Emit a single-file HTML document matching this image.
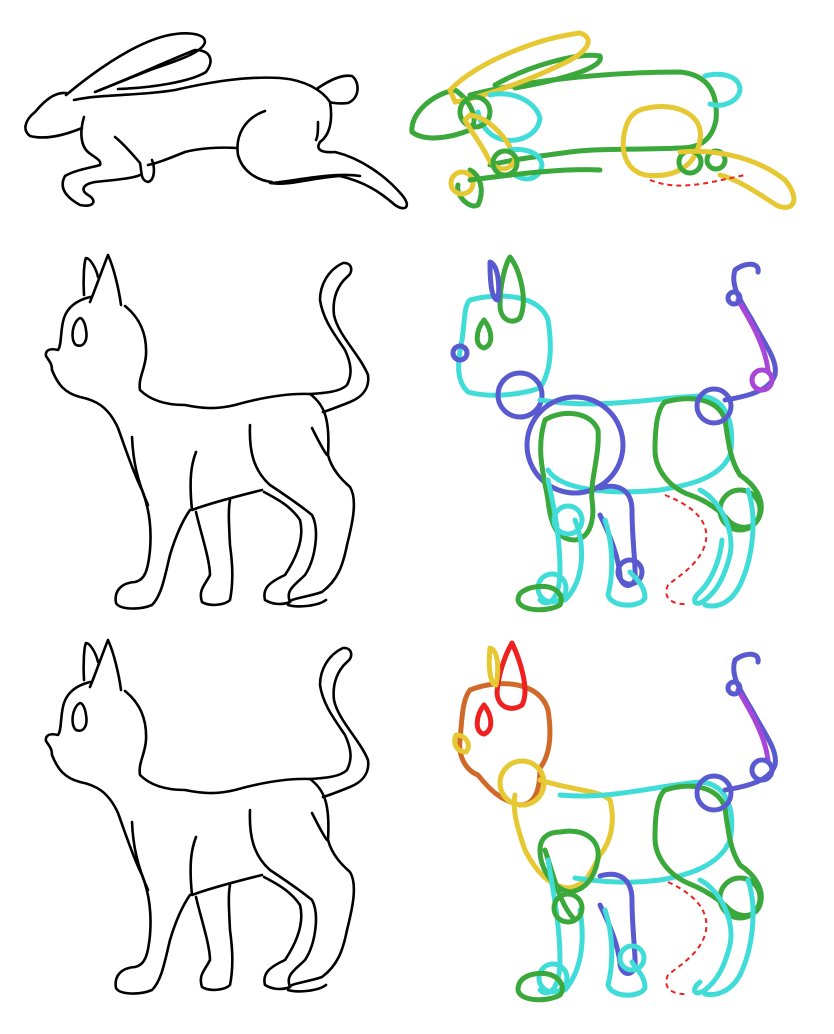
<!DOCTYPE html>
<html><head><meta charset="utf-8"><style>
html,body{margin:0;padding:0;background:#fff;width:834px;height:1034px;overflow:hidden}
svg{display:block}
.k{fill:none;stroke:#000;stroke-width:2.6;stroke-linecap:round;stroke-linejoin:round}
.c{fill:none;stroke-width:5;stroke-linecap:round;stroke-linejoin:round}
.cy{stroke:#40dcd8}.gr{stroke:#3aa83a}.bl{stroke:#5a5ad0}.pu{stroke:#a846d8}.ye{stroke:#e6c832}.or{stroke:#d06a2a}.re{stroke:#ee2020}
.dash{fill:none;stroke:#ee2020;stroke-width:2;stroke-dasharray:5 4}
</style></head><body>
<svg width="834" height="1034" viewBox="0 0 834 1034">
<defs>
<g id="cat">
<path class="k" d="M84,295 C83,280 84,262 86,258 C90,258 96,268 98,277"/>
<path class="k" d="M90,302 C95,290 102,270 108,255 C114,268 119,290 121,305"/>
<path class="k" d="M90,297 C78,300 68,306 64,318 C60,330 62,345 58,350 C50,348 45,350 46,356 C50,362 52,364 52,370 C58,385 65,393 80,397 C95,400 108,406 118,428 C126,450 133,472 142,490 C148,505 152,525 150,550 C148,570 145,580 135,582 C120,583 114,592 116,603 C120,610 140,610 152,605 C162,595 165,575 170,555 C176,535 183,520 190,510"/>
<path class="k" d="M132,437 C133,460 137,480 148,505"/>
<path class="k" d="M125,306 C140,318 147,335 146,355 C145,370 138,378 140,390 C150,400 165,405 185,405 C200,408 215,410 235,405 C260,398 285,393 310,394 C325,393 340,392 347,385 C352,375 352,365 345,350 C335,335 323,320 320,300 C320,285 328,270 343,263 C352,262 354,272 347,277 C338,285 332,298 334,315 C338,335 360,355 368,375 C370,390 360,398 350,402 C340,406 330,410 323,412"/>
<path class="k" d="M310,394 C325,405 330,420 328,455 C332,470 342,480 350,487 C358,500 352,525 347,545 C343,565 338,580 322,592 C305,598 287,598 288,605 C298,608 318,606 326,600"/>
<path class="k" d="M312,428 C318,440 323,450 327,455"/>
<path class="k" d="M250,425 C249,450 253,470 270,485 C285,495 300,505 312,515 C320,530 315,560 305,575 C295,585 285,590 290,602"/>
<path class="k" d="M196,452 C191,465 189,480 192,510 C205,505 230,498 262,490"/>
<path class="k" d="M196,512 C200,530 210,560 210,575 C205,585 198,590 202,602 C210,607 225,605 230,600 C234,580 232,560 230,545 C229,525 228,510 230,500"/>
<path class="k" d="M264,492 C275,498 290,505 300,520 C305,540 295,560 285,575 C270,582 262,588 265,600 C275,606 285,604 290,602"/>
<path class="k" d="M80,318 C72,322 70,340 76,345 C84,348 88,340 86,330 C85,322 82,318 80,318 Z"/>
</g>
</defs>

<g>
<path class="k" d="M66,95 C90,75 130,45 165,36 C185,31 205,33 205,42 C203,52 180,60 150,70 C125,80 105,88 95,92"/>
<path class="k" d="M100,90 C130,78 170,60 195,50 C210,50 215,60 206,72 C190,82 150,88 118,89"/>
<path class="k" d="M66,93 C55,92 45,100 35,112 C25,120 22,130 30,136 C45,140 65,135 82,128"/>
<path class="k" d="M74,100 C100,94 140,96 175,90 C210,82 245,76 280,78 C305,80 322,90 330,102 C333,120 330,135 320,142 C315,150 322,153 335,152 C360,158 385,175 402,195 C412,207 405,212 395,205 C380,192 365,182 340,176 C310,178 290,186 270,183"/>
<path class="k" d="M318,88 C330,80 342,74 352,76 C360,82 360,98 348,103 C340,104 332,103 330,102"/>
<path class="k" d="M265,111 C245,118 235,135 238,155 C242,170 255,180 272,182"/>
<path class="k" d="M237,148 C220,147 200,148 185,152 C170,158 158,163 148,165"/>
<path class="k" d="M84,117 C80,130 80,145 88,152 C95,158 102,160 100,165 C90,168 75,170 65,176 C60,185 62,195 80,205 C95,208 97,200 88,195 C80,190 83,184 95,182 C115,180 135,178 140,175"/>
<path class="k" d="M115,137 C125,145 133,155 140,163 C142,172 140,180 148,182 C155,180 155,168 152,160"/>
<path class="k" d="M318,122 C318,130 318,136 316,140"/>
<path class="k" d="M272,183 C300,180 335,172 360,176"/>
</g>

<g>
<path class="c gr" d="M455,90 C430,95 410,115 412,132 C425,142 450,138 470,130 C480,120 470,100 455,90 Z"/>
<path class="c gr" d="M470,95 C520,82 600,72 680,72 C710,75 718,95 716,120 C712,140 700,148 680,148 C640,150 600,148 570,152 C540,156 510,160 490,165"/>
<path class="c gr" d="M495,85 C530,65 580,52 600,56 C605,68 560,80 515,88"/>
<path class="c ye" d="M450,90 C480,60 540,38 580,33 C595,38 590,52 560,65 C530,80 480,98 455,102 Z"/>
<path class="c cy" d="M490,95 C510,90 535,100 540,118 C538,135 520,142 505,140 C490,138 480,125 478,112"/>
<path class="c cy" d="M705,76 C720,72 740,75 740,90 C738,102 722,108 710,104"/>
<circle class="c gr" cx="475" cy="112" r="15"/>
<path class="c ye" d="M470,115 C490,118 510,140 515,160 C510,172 495,172 488,158 C482,145 470,130 465,120 Z"/>
<path class="c cy" d="M510,150 C525,148 540,152 542,165 C540,180 525,182 515,175"/>
<circle class="c gr" cx="505" cy="163" r="12"/>
<path class="c gr" d="M470,170 C480,175 485,190 478,205 C470,210 455,195 458,185"/>
<circle class="c ye" cx="462" cy="183" r="11"/>
<path class="c gr" d="M470,180 C510,175 560,168 600,170"/>
<path class="c ye" d="M640,110 C670,100 705,112 700,140 C695,170 670,178 645,175 C625,170 620,150 625,130 C628,118 633,113 640,110 Z"/>
<circle class="c gr" cx="690" cy="162" r="11"/>
<circle class="c gr" cx="716" cy="160" r="9"/>
<path class="c ye" d="M680,152 C720,148 760,160 785,180 C800,198 795,212 778,206 C760,195 740,180 720,175"/>
<path class="dash" d="M650,180 C680,192 710,182 745,175"/>
</g>

<use href="#cat"/>
<use href="#cat" transform="translate(0,385)"/>

<g>
<path class="c cy" d="M470,300 C500,292 540,295 548,320 C552,345 552,370 540,388 C520,395 490,398 468,392 C455,380 458,360 462,340 C465,320 464,305 470,300 Z"/>
<path class="c gr" d="M510,257 C520,270 528,300 520,318 C512,325 500,320 500,305 C500,285 505,265 510,257 Z"/>
<path class="c bl" d="M490,262 C498,265 500,285 498,300 C492,300 490,285 490,262 Z"/>
<path class="c gr" d="M484,320 C492,330 494,345 484,348 C474,346 476,330 484,320 Z"/>
<circle class="c bl" cx="460" cy="353" r="7"/>
<circle class="c bl" cx="520" cy="395" r="22"/>
<path class="c cy" d="M540,400 C600,410 650,398 700,396 C730,398 735,430 730,455 C720,478 690,485 660,490 C610,495 560,490 548,470"/>
<circle class="c bl" cx="575" cy="445" r="48"/>
<path class="c gr" d="M545,420 C560,410 590,410 598,430 C600,455 590,480 592,500 C595,520 590,538 575,540 C555,540 550,520 548,500 C545,480 535,450 545,420 Z"/>
<path class="c cy" d="M548,480 C555,510 560,540 560,570 C560,600 548,608 540,600"/>
<path class="c cy" d="M575,520 C585,545 585,580 565,600"/>
<circle class="c cy" cx="552" cy="588" r="14"/>
<path class="c gr" d="M530,588 C555,582 565,595 560,605 C548,612 520,612 518,600 C518,592 525,590 530,588 Z"/>
<circle class="c cy" cx="568" cy="520" r="14"/>
<path class="c bl" d="M600,488 C620,482 632,492 632,510 C632,540 636,565 635,580 C630,590 620,585 620,575 C618,555 610,535 600,515"/>
<circle class="c bl" cx="630" cy="572" r="12"/>
<path class="c cy" d="M605,520 C615,550 612,580 608,595 C612,608 640,608 645,598 C645,585 635,578 630,572"/>
<path class="c gr" d="M665,402 C690,395 718,398 725,420 C728,440 730,460 740,475 C755,485 765,500 760,515 C755,530 740,530 730,522 C720,510 705,500 690,495 C670,488 655,470 655,450 C655,425 658,408 665,402 Z"/>
<circle class="c gr" cx="740" cy="510" r="20"/>
<path class="c cy" d="M700,490 C720,500 735,530 730,555 C725,575 718,590 705,600 C695,608 690,600 700,592 C712,580 720,560 722,540"/>
<path class="c cy" d="M748,490 C758,520 752,560 740,585 C730,605 715,608 705,605"/>
<path class="dash" d="M665,495 C690,505 712,520 705,545 C698,565 680,575 668,585 C662,598 672,605 688,604"/>
<circle class="c bl" cx="714" cy="406" r="17"/>
<path class="c bl" d="M725,400 C750,396 770,390 775,375 C778,360 765,345 752,320 C740,300 730,285 735,270 C745,262 760,262 758,272"/>
<path class="c pu" d="M738,300 C750,320 765,345 768,370"/>
<circle class="c pu" cx="762" cy="380" r="10"/>
<circle class="c bl" cx="734" cy="298" r="6"/>
</g>

<g>
<path class="c or" d="M470,690 C500,678 540,682 548,710 C552,735 550,755 540,768 C540,790 535,805 520,805 C500,800 490,790 478,775 C465,770 458,755 460,740 C462,720 462,700 470,690 Z"/>
<path class="c re" d="M512,643 C520,660 530,690 522,705 C512,712 498,708 497,693 C498,675 505,655 512,643 Z"/>
<path class="c ye" d="M490,648 C497,650 500,665 496,685 C490,685 488,665 490,648 Z"/>
<path class="c re" d="M484,705 C492,715 494,730 484,734 C474,732 476,715 484,705 Z"/>
<path class="c ye" d="M456,735 C466,735 472,745 466,752 C458,752 452,745 456,735 Z"/>
<circle class="c ye" cx="522" cy="783" r="22"/>
<path class="c ye" d="M540,780 C570,790 600,790 610,800 C615,820 612,840 600,855 C590,875 585,885 570,888 C550,888 535,870 525,850 C518,830 512,810 515,795"/>
<path class="c cy" d="M560,795 C610,800 660,785 700,782 C730,784 735,815 730,840 C720,865 690,875 660,880 C620,885 590,880 575,878"/>
<path class="c gr" d="M560,832 C585,828 600,840 598,858 C595,878 585,890 570,892 C555,890 540,870 540,850 C540,838 548,832 560,832 Z"/>
<path class="c gr" d="M545,850 C555,880 560,905 575,920"/>
<path class="c cy" d="M548,860 C555,900 560,930 560,960 C560,990 548,998 540,990"/>
<path class="c cy" d="M580,910 C585,940 582,970 565,990"/>
<circle class="c cy" cx="553" cy="978" r="14"/>
<path class="c gr" d="M530,975 C555,968 568,985 560,995 C548,1002 520,1002 518,990 C518,980 525,977 530,975 Z"/>
<circle class="c gr" cx="568" cy="908" r="14"/>
<path class="c bl" d="M600,876 C620,870 632,880 632,900 C632,930 636,955 635,968 C630,978 620,973 620,963 C618,945 610,925 600,905"/>
<circle class="c cy" cx="632" cy="958" r="12"/>
<path class="c cy" d="M605,910 C615,940 612,970 608,985 C612,998 640,998 645,988 C645,975 635,968 632,962"/>
<path class="c gr" d="M665,790 C690,782 718,786 725,808 C728,830 730,850 740,865 C755,875 765,890 760,905 C755,918 740,918 730,910 C720,900 705,890 690,884 C670,876 655,858 655,838 C655,812 658,796 665,790 Z"/>
<circle class="c gr" cx="740" cy="898" r="20"/>
<path class="c cy" d="M700,880 C720,890 735,920 730,945 C725,965 718,980 705,990 C695,997 690,990 700,982"/>
<path class="c cy" d="M748,880 C758,910 752,950 740,975 C730,993 715,996 705,994"/>
<path class="dash" d="M668,882 C692,893 712,910 705,935 C698,955 680,965 668,975 C662,988 672,995 688,994"/>
<circle class="c bl" cx="714" cy="793" r="17"/>
<path class="c bl" d="M725,790 C750,786 770,780 775,765 C778,750 765,735 752,710 C740,690 730,675 735,660 C745,652 760,652 758,662"/>
<path class="c pu" d="M738,690 C750,710 765,735 768,760"/>
<circle class="c bl" cx="762" cy="770" r="10"/>
<circle class="c bl" cx="734" cy="688" r="6"/>
</g>
</svg>
</body></html>
